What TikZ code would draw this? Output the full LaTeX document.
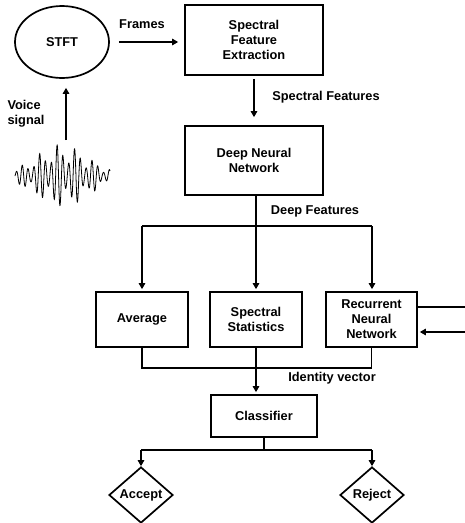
\documentclass[tikz,border=0pt]{standalone}
\usepackage{fontspec}
\setmainfont{Liberation Sans}
\usetikzlibrary{shapes.geometric,arrows.meta}
\begin{document}
\begin{tikzpicture}[x=1pt,y=-1pt,
  font=\bfseries\fontsize{12.8}{15}\selectfont,
  box/.style={draw, line width=1.7pt, align=center, inner sep=0pt},
  line/.style={line width=1.3pt},
  arr/.style={line width=1.3pt, -{Triangle[length=6pt,width=6.5pt]}},
  dia/.style={draw, diamond, line width=1.7pt, inner sep=0pt, minimum width=64pt, minimum height=56pt}]
\useasboundingbox (0,0) rectangle (465,523);
% nodes
\node[draw, ellipse, line width=1.7pt, minimum width=94pt, minimum height=72pt] (stft) at (62,42) {STFT};
\node[box, minimum width=138pt, minimum height=70pt] (sfe) at (254,40) {Spectral\\Feature\\Extraction};
\node[box, minimum width=138pt, minimum height=69pt] (dnn) at (254,160.5) {Deep Neural\\Network};
\node[box, minimum width=92pt, minimum height=55pt] (avg) at (142,319.5) {Average};
\node[box, minimum width=92pt, minimum height=55pt] (sst) at (256,319.5) {Spectral\\Statistics};
\node[box, minimum width=91pt, minimum height=55pt] (rnn) at (371.5,319.5) {Recurrent\\Neural\\Network};
\node[box, minimum width=106pt, minimum height=42pt] (cls) at (264,416) {Classifier};
\node[dia] (acc) at (141,495) {Accept};
\node[dia] (rej) at (372,495) {Reject};
% labels
\node (lfr) at (142,24) {Frames};
\node (lsf) at (326,97) {Spectral Features};
\node (ldf) at (315,211) {Deep Features};
\node (liv) at (332,378) {Identity vector};
\node[align=left] (lvs) at (26,114) {Voice\\signal};
% waveform
\draw[line width=0.8pt] plot[domain=15:110, samples=600]
  (\x, {176 - (2 + 30*exp(-((\x-62)/36)^2))*(0.68+0.32*cos((\x-58)*20))*sin((\x-15)*62)});
\coordinate (wv) at (66,140);
% connectors
\draw[arr, shorten <=9pt, shorten >=6pt] (stft.east) -- (stft.east -| sfe.west);
\draw[arr, shorten <=3pt, shorten >=8pt] (sfe.south) -- (dnn.north);
\draw[arr, shorten >=9pt] (wv) -- (wv |- stft.south);
\coordinate (bl) at (142,226);
\coordinate (br) at (372,226);
\draw[line] (bl) -- (br);
\draw[arr, shorten >=2pt] (bl) -- (avg.north);
\draw[arr, shorten >=2pt] (dnn.south -| sst.north) -- (sst.north);
\draw[arr, shorten >=2pt] (br) -- (br |- rnn.north);
\coordinate (jb) at (256,368);
\draw[line] (avg.south) |- (jb) -| (rnn.south);
\draw[arr, shorten >=2pt] (sst.south) -- (sst.south |- cls.north);
\coordinate (rout) at (465,307);
\coordinate (rin) at (465,332);
\draw[line] (rout -| rnn.east) -- (rout);
\draw[arr, shorten >=2pt] (rin) -- (rin -| rnn.east);
\coordinate (cl) at (141,450);
\coordinate (cr) at (372,450);
\draw[line] (cls.south) -- (cls.south |- cl);
\draw[line] (cl) -- (cr);
\draw[arr] (cl) -- (acc.north);
\draw[arr] (cr) -- (rej.north);
\end{tikzpicture}
\end{document}
